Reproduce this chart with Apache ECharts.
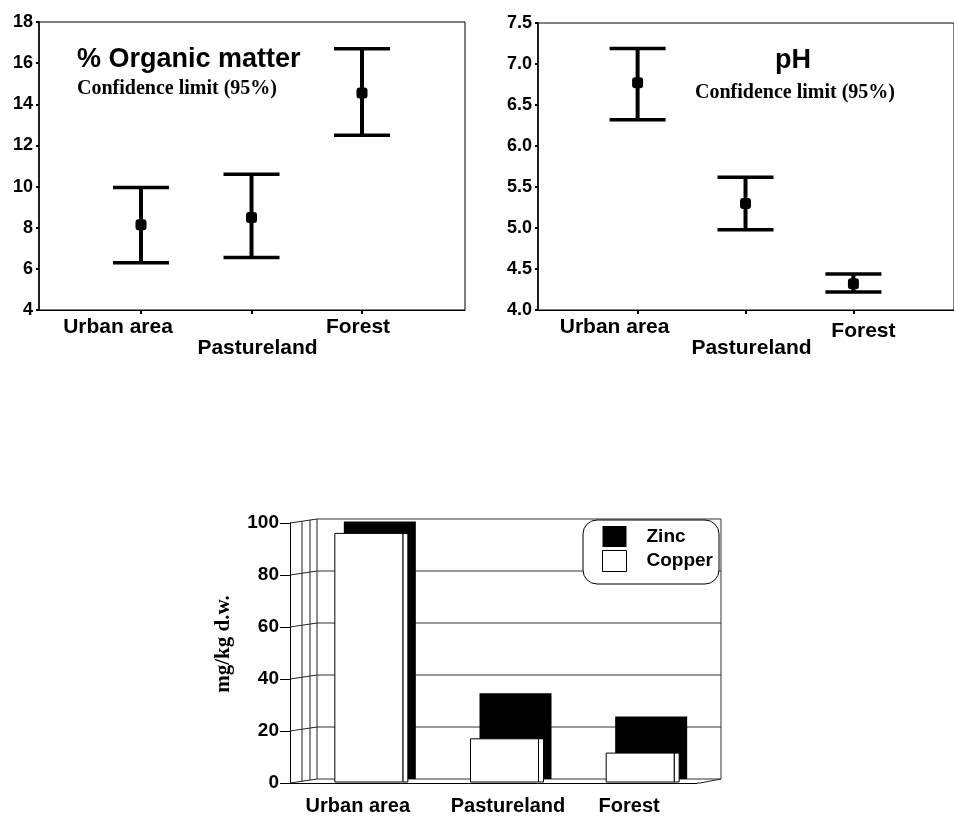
<!DOCTYPE html>
<html><head><meta charset="utf-8">
<script src="https://cdn.jsdelivr.net/npm/echarts@6/dist/echarts.min.js"></script>
<style>html,body{margin:0;padding:0;background:#fff}#c{width:954px;height:816px}</style>
</head><body><div id="c"></div>
<script>
// ---- data ----
const sites = ['Urban area', 'Pastureland', 'Forest'];
const sitePos = [1, 2, 3];
// % organic matter, 95% confidence limits
const omLower = [6.3, 6.55, 12.5];
const omMean  = [8.15, 8.5, 14.55];
const omUpper = [9.95, 10.6, 16.7];
// pH, 95% confidence limits
const phLower = [6.32, 4.98, 4.22];
const phMean  = [6.77, 5.30, 4.32];
const phUpper = [7.19, 5.62, 4.44];
// metals, mg/kg d.w.
const zinc   = [99, 33, 24];
const copper = [96, 17, 11.5];
const metalTicks = [0, 20, 40, 60, 80, 100];

// ---- helpers ----
const SANS = 'Liberation Sans, Arial, sans-serif';
const SERIF = 'Liberation Serif, Times New Roman, serif';
const K = '#000';

function errRender(params, api) {
  const x = api.value(0);
  const lo = api.coord([x, api.value(1)]);
  const m = api.coord([x, api.value(2)]);
  const hi = api.coord([x, api.value(3)]);
  const hw = 28, lw = 3.5;
  return { type: 'group', children: [
    { type: 'line', shape: { x1: hi[0], y1: hi[1], x2: lo[0], y2: lo[1] }, style: { stroke: K, lineWidth: 4 } },
    { type: 'line', shape: { x1: hi[0] - hw, y1: hi[1], x2: hi[0] + hw, y2: hi[1] }, style: { stroke: K, lineWidth: lw } },
    { type: 'line', shape: { x1: lo[0] - hw, y1: lo[1], x2: lo[0] + hw, y2: lo[1] }, style: { stroke: K, lineWidth: lw } },
    { type: 'rect', shape: { x: m[0] - 5.5, y: m[1] - 5.5, width: 11, height: 11, r: 3 }, style: { fill: K } }
  ]};
}

const labStyle = { fontFamily: SANS, fontWeight: 'bold', fontSize: 21, lineHeight: 21, color: K };

// main x axis (line, ticks, first-row labels) + second axis (second-row label)
function topXAxes(gi, pad0, pad2) {
  const row1 = [sitePos[0], sitePos[2]];
  const row2 = [sitePos[1]];
  return [{
    gridIndex: gi, type: 'value', min: 0.077, max: 3.932,
    axisLine: { lineStyle: { color: K, width: 1 } },
    axisTick: { customValues: sitePos, length: 4, lineStyle: { color: K, width: 2 } },
    splitLine: { show: false },
    axisLabel: {
      customValues: row1, margin: 7, hideOverlap: false,
      formatter: v => v === sitePos[0] ? '{a|' + sites[0] + '}' : '{c|' + sites[2] + '}',
      rich: {
        a: Object.assign({ padding: pad0 }, labStyle),
        c: Object.assign({ padding: pad2 }, labStyle)
      }
    }
  }, {
    gridIndex: gi, type: 'value', min: 0.077, max: 3.932, position: 'bottom',
    axisLine: { show: false }, axisTick: { show: false }, splitLine: { show: false },
    axisLabel: {
      customValues: row2, margin: 28, hideOverlap: false,
      formatter: () => '{b|' + sites[1] + '}',
      rich: { b: Object.assign({ padding: [0, 0, 0, 12] }, labStyle) }
    }
  }];
}

function topYAxis(gi, min, max, interval, fmt) {
  return {
    gridIndex: gi, type: 'value', min: min, max: max, interval: interval,
    axisLine: { show: true, lineStyle: { color: K, width: 1.5 } },
    axisTick: { show: true, length: 3, lineStyle: { color: K, width: 2 } },
    splitLine: { show: false },
    axisLabel: { margin: 6, color: K, fontFamily: SANS, fontWeight: 'bold', fontSize: 18, formatter: fmt }
  };
}

// wall / floor decoration for pseudo-3D bar chart
function wallRender(params, api) {
  const cs = params.coordSys;
  const x0 = cs.x, dx = 27, dy = -4;
  const xr = x0 + 431;
  const ch = [];
  const yTop = api.coord([0, metalTicks[metalTicks.length - 1]])[1];
  const yBot = api.coord([0, metalTicks[0]])[1];
  metalTicks.forEach(t => {
    const y = api.coord([0, t])[1];
    ch.push({ type: 'line', shape: { x1: x0, y1: y, x2: x0 + dx, y2: y + dy }, style: { stroke: '#222', lineWidth: 1 } });
    ch.push({ type: 'line', shape: { x1: x0 + dx, y1: y + dy, x2: xr, y2: y + dy }, style: { stroke: '#333', lineWidth: 1 } });
  });
  [12, 20, dx].forEach(o => {
    const yt = yTop + dy * o / dx, yb = yBot + dy * o / dx;
    ch.push({ type: 'line', shape: { x1: x0 + o, y1: yt, x2: x0 + o, y2: yb }, style: { stroke: '#222', lineWidth: 1 } });
  });
  ch.push({ type: 'line', shape: { x1: xr, y1: yTop + dy, x2: xr, y2: yBot + dy }, style: { stroke: '#333', lineWidth: 1 } });
  ch.push({ type: 'line', shape: { x1: cs.x + cs.width + 3, y1: yBot, x2: xr, y2: yBot + dy }, style: { stroke: '#222', lineWidth: 1 } });
  ch.push({ type: 'line', shape: { x1: cs.x + cs.width, y1: yBot, x2: cs.x + cs.width + 3, y2: yBot }, style: { stroke: '#222', lineWidth: 1 } });
  return { type: 'group', children: ch };
}

function zincRender(params, api) {
  const i = api.value(0);
  const base = api.coord([i, 0]);
  const top = api.coord([i, api.value(1)]);
  const c = base[0];
  return { type: 'rect', shape: { x: c - 14, y: top[1] - 4, width: 72, height: base[1] - top[1] }, style: { fill: K } };
}
function copperRender(params, api) {
  const i = api.value(0);
  const base = api.coord([i, 0]);
  const top = api.coord([i, api.value(1)]);
  const c = base[0];
  return { type: 'group', children: [
    { type: 'rect', shape: { x: c + 45, y: top[1], width: 5, height: base[1] - top[1] - 1 }, style: { fill: '#fff', stroke: K, lineWidth: 1 } },
    { type: 'rect', shape: { x: c - 23, y: top[1], width: 68, height: base[1] - top[1] - 1 }, style: { fill: '#fff', stroke: K, lineWidth: 1 } }
  ]};
}

const xLeft = topXAxes(0, [0, 46, 0, 0], [0, 8, 0, 0]);
const xRight = topXAxes(1, [0, 46, 0, 0], [8, 0, 0, 20]);

const option = {
  animation: false,
  backgroundColor: '#fff',
  textStyle: { fontFamily: SANS, color: K },
  title: [
    { text: '% Organic matter', left: 77, top: 46, padding: 0, textStyle: { fontFamily: SANS, fontWeight: 'bold', fontSize: 27, color: K } },
    { text: 'Confidence limit (95%)', left: 77, top: 79, padding: 0, textStyle: { fontFamily: SERIF, fontWeight: 'bold', fontSize: 20, color: K } },
    { text: 'pH', left: 775, top: 47, padding: 0, textStyle: { fontFamily: SANS, fontWeight: 'bold', fontSize: 27, color: K } },
    { text: 'Confidence limit (95%)', left: 695, top: 83, padding: 0, textStyle: { fontFamily: SERIF, fontWeight: 'bold', fontSize: 20, color: K } }
  ],
  legend: {
    left: 583, top: 520, orient: 'vertical',
    backgroundColor: '#fff', borderColor: K, borderWidth: 1, borderRadius: 14,
    padding: [6, 6, 12, 19], itemWidth: 24, itemHeight: 21, itemGap: 3,
    icon: 'rect',
    textStyle: { fontFamily: SANS, fontWeight: 'bold', fontSize: 19, color: K, padding: [0, 0, 0, 15] },
    data: [
      { name: 'Zinc', itemStyle: { color: K } },
      { name: 'Copper', itemStyle: { color: '#fff', borderColor: K, borderWidth: 1 } }
    ]
  },
  grid: [
    { left: 39, top: 22, width: 426, height: 288, show: true, borderColor: K, borderWidth: 1, backgroundColor: 'transparent' },
    { left: 538, top: 23, width: 426, height: 287, show: true, borderColor: K, borderWidth: 1, backgroundColor: 'transparent' },
    { left: 290, top: 523, width: 407, height: 260 }
  ],
  xAxis: [
    xLeft[0], xLeft[1], xRight[0], xRight[1],
    {
      gridIndex: 2, type: 'category', data: sites,
      axisLine: { lineStyle: { color: K, width: 1 } },
      axisTick: { alignWithLabel: true, length: 9, lineStyle: { color: K } },
      axisLabel: {
        interval: 0, hideOverlap: false,
        margin: 13, color: K, fontFamily: SANS, fontWeight: 'bold', fontSize: 20,
        formatter: (v, i) => i === 1 ? '{p|' + v + '}' : v,
        rich: { p: { padding: [0, 0, 0, 29], fontFamily: SANS, fontWeight: 'bold', fontSize: 20, color: K } }
      }
    }
  ],
  yAxis: [
    topYAxis(0, 4, 18, 2, v => String(v)),
    topYAxis(1, 4, 7.5, 0.5, v => v.toFixed(1)),
    {
      gridIndex: 2, type: 'value', min: 0, max: 100, interval: 20,
      name: 'mg/kg d.w.', nameLocation: 'middle', nameRotate: 90, nameGap: 56,
      nameTextStyle: { fontFamily: SERIF, fontWeight: 'bold', fontSize: 21, color: K, padding: [0, 0, 0, 18] },
      axisLine: { show: true, lineStyle: { color: K, width: 1 } },
      axisTick: { show: true, length: 10, lineStyle: { color: K } },
      splitLine: { show: false },
      axisLabel: { margin: 11, color: K, fontFamily: SANS, fontWeight: 'bold', fontSize: 19 }
    }
  ],
  series: [
    {
      type: 'custom', name: 'OM', xAxisIndex: 0, yAxisIndex: 0, renderItem: errRender,
      encode: { x: 0, y: [1, 2, 3] },
      data: sitePos.map((p, i) => [p, omLower[i], omMean[i], omUpper[i]])
    },
    {
      type: 'custom', name: 'pH', xAxisIndex: 2, yAxisIndex: 1, renderItem: errRender,
      encode: { x: 0, y: [1, 2, 3] },
      data: sitePos.map((p, i) => [p, phLower[i], phMean[i], phUpper[i]])
    },
    {
      type: 'custom', name: 'wall', xAxisIndex: 4, yAxisIndex: 2, z: 1, silent: true,
      renderItem: wallRender, data: [[0, 0]]
    },
    {
      type: 'custom', name: 'Zinc', xAxisIndex: 4, yAxisIndex: 2, z: 3,
      itemStyle: { color: K }, renderItem: zincRender,
      encode: { x: 0, y: 1 },
      data: zinc.map((v, i) => [i, v])
    },
    {
      type: 'custom', name: 'Copper', xAxisIndex: 4, yAxisIndex: 2, z: 4,
      itemStyle: { color: '#fff', borderColor: K }, renderItem: copperRender,
      encode: { x: 0, y: 1 },
      data: copper.map((v, i) => [i, v])
    }
  ]
};

const chart = echarts.init(document.getElementById('c'), null, { renderer: 'canvas' });
chart.setOption(option);
</script>
</body></html>
